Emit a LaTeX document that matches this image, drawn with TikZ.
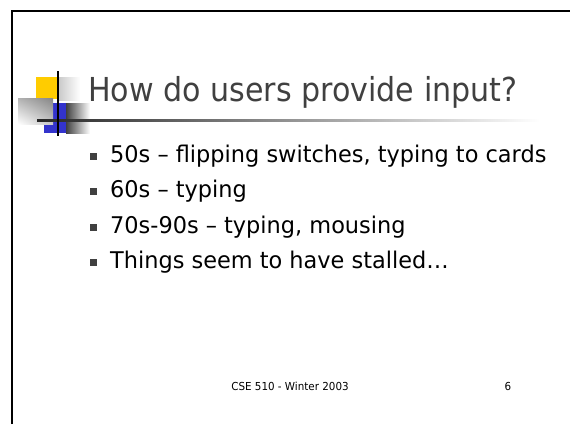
\documentclass[tikz,border=0pt]{standalone}
\usepackage{fontspec}
\setmainfont{DejaVu Sans}
\newfontfamily\titlefont[FakeStretch=0.912]{DejaVu Sans}
\newfontfamily\itemfont[FakeStretch=0.975, Ligatures=TeX]{DejaVu Sans}
\newfontfamily\footfont[FakeStretch=0.94]{DejaVu Sans}
\usetikzlibrary{positioning, shadings}
\definecolor{titlegray}{HTML}{404040}
\definecolor{logoyellow}{HTML}{FFCC00}
\definecolor{logoblue}{HTML}{3333CC}
\definecolor{bulletgray}{HTML}{404040}

\begin{document}
\begin{tikzpicture}[x=1pt, y=-1pt,
    item/.style={anchor=base west, inner sep=0pt, font=\itemfont\fontsize{23}{28}\selectfont},
    bullet/.style={fill=bulletgray, minimum size=7pt, inner sep=0pt},
    foot/.style={anchor=base, inner sep=0pt, font=\footfont\fontsize{11}{13}\selectfont}]
  \useasboundingbox (0,0) rectangle (570,424);
  % slide frame
  \draw[line width=2pt] (11.5,424) -- (11.5,11) -- (570,11);
  % logo
  \shade[left color=gray!45, right color=white] (57,77) rectangle (80,100);
  \fill[logoyellow] (36,77) rectangle (57,99);
  \fill[logoblue] (44,103) rectangle (66,133);
  \shade[left color=black!75, right color=white] (66,103) rectangle (90,133);
  \shade[upper left=gray!60, upper right=gray!95, lower left=white, lower right=gray!45] (18,98) rectangle (53,124);
  \shade[left color=black!85, right color=white] (37,119) rectangle (540,121);
  \draw[line width=1.3pt] (58,71) -- (58,136);
  % title
  \node[anchor=base west, inner sep=0pt, text=titlegray, font=\titlefont\fontsize{33}{40}\selectfont] (title) at (88,101) {How do users provide input?};
  % bullets
  \node[bullet] (b1) at (93,156) {};
  \node[item] (t1) at (110,162) {50s – flipping switches, typing to cards};
  \node[bullet] (b2) at (93,191) {};
  \node[item] (t2) at (110,197) {60s – typing};
  \node[bullet] (b3) at (93,227) {};
  \node[item] (t3) at (110,233) {70s-90s – typing, mousing};
  \node[bullet] (b4) at (93,262) {};
  \node[item] (t4) at (110,268) {Things seem to have stalled…};
  % footer
  \node[foot] (course) at (290,390) {CSE 510 - Winter 2003};
  \node[foot] (page) at (508,390) {6};
\end{tikzpicture}
\end{document}
